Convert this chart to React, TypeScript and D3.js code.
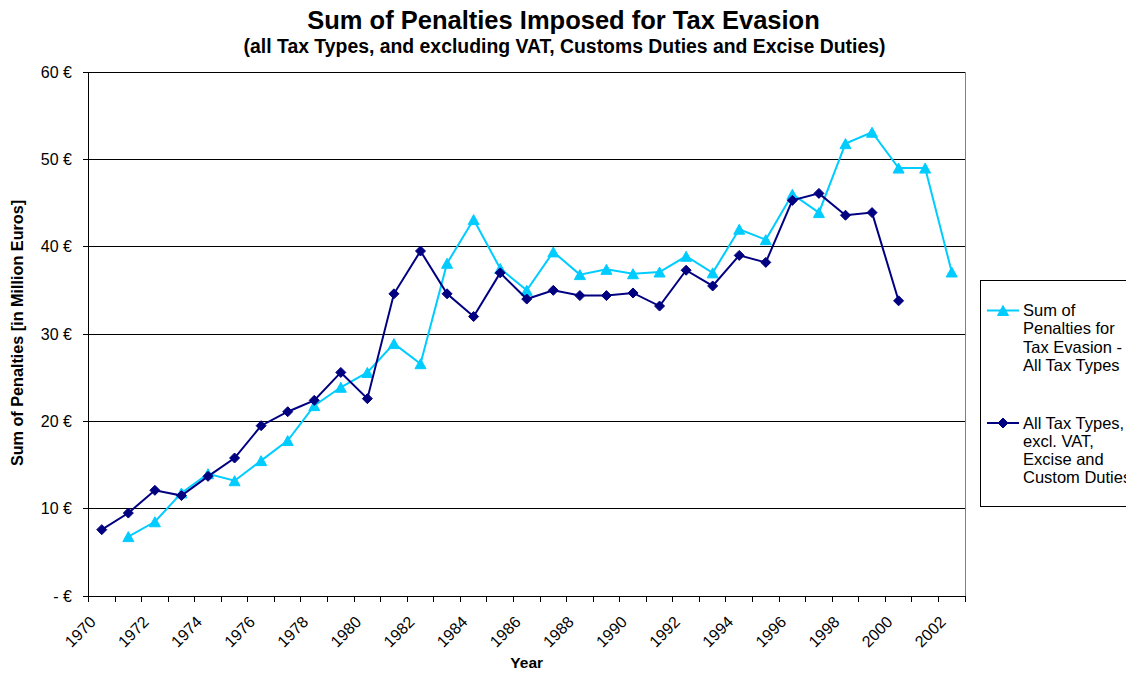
import React from "react";
import * as d3 from "d3";

const years: string[] = [
  "1970","1971","1972","1973","1974","1975","1976","1977","1978","1979",
  "1980","1981","1982","1983","1984","1985","1986","1987","1988","1989",
  "1990","1991","1992","1993","1994","1995","1996","1997","1998","1999",
  "2000","2001","2002",
];

const allTaxTypes: (number | null)[] = [
  null, 6.8, 8.5, 11.8, 14.0, 13.2, 15.5, 17.8, 21.8, 23.9,
  25.6, 28.9, 26.6, 38.1, 43.1, 37.5, 35.0, 39.4, 36.8, 37.4,
  36.9, 37.1, 38.9, 37.0, 42.0, 40.8, 46.0, 43.9, 51.8, 53.1,
  49.0, 49.0, 37.1,
];

const exclVatCustomsExcise: (number | null)[] = [
  7.6, 9.5, 12.1, 11.5, 13.7, 15.8, 19.5, 21.1, 22.4, 25.6,
  22.6, 34.6, 39.5, 34.6, 32.0, 37.0, 34.0, 35.0, 34.4, 34.4,
  34.7, 33.2, 37.3, 35.5, 39.0, 38.2, 45.3, 46.1, 43.6, 43.9,
  33.8, null, null,
];

const yTicks: number[] = [0, 10, 20, 30, 40, 50, 60];
const xLabelYears: string[] = [
  "1970","1972","1974","1976","1978","1980","1982","1984","1986",
  "1988","1990","1992","1994","1996","1998","2000","2002",
];

const legendAll: string[] = ["Sum of", "Penalties for", "Tax Evasion -", "All Tax Types"];
const legendExcl: string[] = ["All Tax Types,", "excl. VAT,", "Excise and", "Custom Duties"];

const W = 1126;
const H = 674;
const left = 88.5;
const right = 965;
const top = 72;
const bottom = 596;
const FONT = "'Liberation Sans', Arial, Helvetica, sans-serif";
const LIGHT = "#00CCFF";
const DARK = "#000080";

function fmtEuro(v: number): string {
  return v === 0 ? "- €" : `${v} €`;
}

function Diamond({ x, y }: { x: number; y: number }) {
  const r = 5;
  return <path d={`M${x},${y - r}L${x + r},${y}L${x},${y + r}L${x - r},${y}Z`} fill={DARK} stroke={DARK} strokeWidth={1} />;
}

function Triangle({ x, y }: { x: number; y: number }) {
  const w = 5.5;
  const h = 5;
  return <path d={`M${x},${y - h}L${x + w},${y + h}L${x - w},${y + h}Z`} fill={LIGHT} stroke={LIGHT} strokeWidth={1} />;
}

export default function App() {
  const x = d3.scaleBand<string>().domain(years).range([left, right]).paddingInner(0).paddingOuter(0);
  const bw = x.bandwidth();
  const cx = (yr: string) => (x(yr) as number) + bw / 2;
  const y = d3.scaleLinear().domain([0, 60]).range([bottom, top]);

  const line = d3
    .line<[string, number | null]>()
    .defined((d) => d[1] !== null)
    .x((d) => cx(d[0]))
    .y((d) => y(d[1] as number));

  const allPairs: [string, number | null][] = years.map((yr, i) => [yr, allTaxTypes[i]]);
  const exclPairs: [string, number | null][] = years.map((yr, i) => [yr, exclVatCustomsExcise[i]]);

  const boundaries = years.map((yr) => x(yr) as number).concat([right]);

  return (
    <div style={{ position: "absolute", left: 0, top: 0 }}>
      <svg width={W} height={H} style={{ display: "block", background: "#fff" }} fontFamily={FONT}>
        <rect x={0} y={0} width={W} height={H} fill="#fff" />
        {/* Titles */}
        <text x={563.5} y={29} textAnchor="middle" fontSize={25.5} fontWeight="bold" fill="#000">
          Sum of Penalties Imposed for Tax Evasion
        </text>
        <text x={564.5} y={53} textAnchor="middle" fontSize={19.4} fontWeight="bold" fill="#000">
          (all Tax Types, and excluding VAT, Customs Duties and Excise Duties)
        </text>

        {/* Plot area border */}
        <rect x={left} y={top} width={right - left} height={bottom - top} fill="none" stroke="#808080" strokeWidth={1} shapeRendering="crispEdges" />

        {/* Gridlines */}
        {yTicks.filter((t) => t > 0).map((t) => (
          <line key={`g${t}`} x1={left} x2={right} y1={y(t)} y2={y(t)} stroke="#000" strokeWidth={1} shapeRendering="crispEdges" />
        ))}

        {/* Y axis */}
        <line x1={left} x2={left} y1={top} y2={bottom} stroke="#000" strokeWidth={1} shapeRendering="crispEdges" />
        {yTicks.map((t) => (
          <g key={`yt${t}`}>
            <line x1={left - 6} x2={left} y1={y(t)} y2={y(t)} stroke="#000" strokeWidth={1} shapeRendering="crispEdges" />
            <text x={72} y={y(t)} dy="0.35em" textAnchor="end" fontSize={16} fill="#000">
              {fmtEuro(t)}
            </text>
          </g>
        ))}

        {/* X axis */}
        <line x1={left} x2={right} y1={bottom} y2={bottom} stroke="#000" strokeWidth={1} shapeRendering="crispEdges" />
        {boundaries.map((b, i) => (
          <line key={`xt${i}`} x1={b} x2={b} y1={bottom} y2={bottom + 6} stroke="#000" strokeWidth={1} shapeRendering="crispEdges" />
        ))}
        {xLabelYears.map((yr) => (
          <text
            key={`xl${yr}`}
            transform={`translate(${cx(yr) - 5},${bottom + 27}) rotate(-45)`}
            textAnchor="end"
            fontSize={16}
            fill="#000"
          >
            {yr}
          </text>
        ))}

        {/* Axis titles */}
        <text x={(left + right) / 2} y={668} textAnchor="middle" fontSize={15.5} fontWeight="bold" fill="#000">
          Year
        </text>
        <text transform={`translate(23,${(top + bottom) / 2 - 1}) rotate(-90)`} textAnchor="middle" fontSize={16.2} fontWeight="bold" fill="#000">
          Sum of Penalties [in Million Euros]
        </text>

        {/* Series */}
        <path d={line(allPairs) || ""} fill="none" stroke={LIGHT} strokeWidth={2} />
        {allPairs.filter((d) => d[1] !== null).map((d) => (
          <Triangle key={`a${d[0]}`} x={cx(d[0])} y={y(d[1] as number)} />
        ))}
        <path d={line(exclPairs) || ""} fill="none" stroke={DARK} strokeWidth={2} />
        {exclPairs.filter((d) => d[1] !== null).map((d) => (
          <Diamond key={`e${d[0]}`} x={cx(d[0])} y={y(d[1] as number)} />
        ))}

        {/* Legend */}
        <rect x={980.5} y={280.5} width={170} height={226} fill="#fff" stroke="#000" strokeWidth={1} />
        <line x1={987} x2={1019} y1={310.5} y2={310.5} stroke={LIGHT} strokeWidth={2} />
        <Triangle x={1003} y={310.5} />
        {legendAll.map((s, i) => (
          <text key={`la${i}`} x={1023} y={316 + i * 18.3} fontSize={16.5} fill="#000">
            {s}
          </text>
        ))}
        <line x1={987} x2={1019} y1={423} y2={423} stroke={DARK} strokeWidth={2} />
        <Diamond x={1003} y={423} />
        {legendExcl.map((s, i) => (
          <text key={`le${i}`} x={1023} y={428.5 + i * 18.3} fontSize={16.5} fill="#000">
            {s}
          </text>
        ))}
      </svg>
    </div>
  );
}
